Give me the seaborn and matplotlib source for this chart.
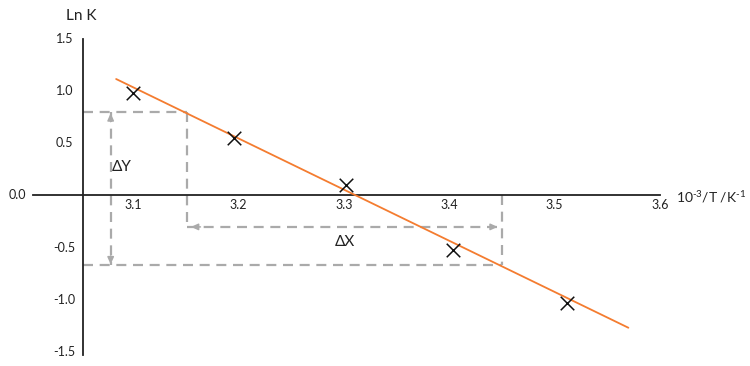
import matplotlib
matplotlib.use("Agg")
import matplotlib.pyplot as plt
import seaborn as sns
import pandas as pd

# ---- data ----
inv_temp = [3.1, 3.196, 3.302, 3.404, 3.512]      # 10^-3 / T
ln_k = [0.967, 0.536, 0.094, -0.53, -1.04]        # ln K
fit_x = [3.084, 3.570]
fit_y = [1.105, -1.275]
x_ticks = [3.1, 3.2, 3.3, 3.4, 3.5, 3.6]
x_tick_labels = ["3.1", "3.2", "3.3", "3.4", "3.5", "3.6"]
y_ticks = [-1.5, -1.0, -0.5, 0.5, 1.0, 1.5]
y_tick_labels = ["-1.5", "-1.0", "-0.5", "0.5", "1.0", "1.5"]
# gradient construction guides
dy_top, dy_bottom = 0.787, -0.678
dx_left, dx_right = 3.151, 3.450
dy_arrow_x = 3.0788
dx_arrow_y = -0.31

sns.set_theme(style="white")
plt.rcParams["font.family"] = ["Lato", "DejaVu Sans"]
plt.rcParams["mathtext.fontset"] = "custom"
plt.rcParams["mathtext.rm"] = "Lato"

fig = plt.figure(figsize=(7.5, 3.66), dpi=100)
ax = fig.add_axes([0, 0, 1, 1])
ax.set_facecolor("white")

YAXIS_X = 3.0526
ax.set_xlim(2.97381, 3.68539)
ax.set_ylim(-1.6411, 1.8612)

for s in ["top", "right"]:
    ax.spines[s].set_visible(False)
ax.spines["left"].set_position(("data", YAXIS_X))
ax.spines["left"].set_bounds(-1.54, 1.49)
ax.spines["bottom"].set_position(("data", 0))
ax.spines["bottom"].set_bounds(3.005, 3.6)
for s in ["left", "bottom"]:
    ax.spines[s].set_color("#222222")
    ax.spines[s].set_linewidth(1.3)

ax.set_xticks(x_ticks)
ax.set_xticklabels(x_tick_labels)
ax.set_yticks(y_ticks)
ax.set_yticklabels(y_tick_labels, ha="center")
ax.tick_params(axis="x", length=0, pad=3.5, labelsize=9, colors="#222222")
ax.tick_params(axis="y", length=0, pad=13.5, labelsize=9, colors="#222222")
ax.text(2.990, 0, "0.0", ha="center", va="center", fontsize=9, color="#222222")

gray = "#AAAAAA"
dash = dict(color=gray, lw=1.6, ls=(0, (4.5, 3)), zorder=1)
# guides
ax.plot([YAXIS_X, dx_left], [dy_top, dy_top], **dash)
ax.plot([dx_left, dx_left], [dy_top, dx_arrow_y], **dash)
ax.plot([dx_left, dx_right], [dx_arrow_y, dx_arrow_y], **dash)
ax.plot([dx_right, dx_right], [0, dy_bottom], **dash)
ax.plot([YAXIS_X, dx_right], [dy_bottom, dy_bottom], **dash)
ax.plot([dy_arrow_x, dy_arrow_x], [dy_top, dy_bottom], **dash)

head = dict(arrowstyle="-|>,head_length=0.35,head_width=0.16", color=gray, lw=1.1,
            shrinkA=0, shrinkB=0)
ax.annotate("", xy=(dy_arrow_x, dy_top - 0.01), xytext=(dy_arrow_x, dy_top - 0.09), arrowprops=head)
ax.annotate("", xy=(dy_arrow_x, dy_bottom + 0.01), xytext=(dy_arrow_x, dy_bottom + 0.09), arrowprops=head)
ax.annotate("", xy=(dx_left + 0.004, dx_arrow_y), xytext=(dx_left + 0.013, dx_arrow_y), arrowprops=head)
ax.annotate("", xy=(dx_right - 0.004, dx_arrow_y), xytext=(dx_right - 0.013, dx_arrow_y), arrowprops=head)

ax.text(3.089, 0.265, "ΔY", ha="center", va="center", fontsize=11, color="#222222")
ax.text(3.301, -0.45, "ΔX", ha="center", va="center", fontsize=11, color="#222222")

fit_df = pd.DataFrame({"x": fit_x, "y": fit_y})
sns.lineplot(data=fit_df, x="x", y="y", ax=ax, color="#F47C30", lw=1.3, zorder=3)

pts = pd.DataFrame({"x": inv_temp, "y": ln_k})
sns.scatterplot(data=pts, x="x", y="y", ax=ax, marker="x", s=95, color="#111111",
                linewidth=1.1, zorder=4)

ax.set_xlabel("")
ax.set_ylabel("")
ax.text(3.0507, 1.708, "Ln K", ha="center", va="center", fontsize=11, color="#222222")
ax.text(3.615, -0.02, "10$^{\\text{-3}}$/T /K$^{\\text{-1}}$", ha="left",
        va="center", fontsize=10, color="#222222")

fig.savefig("out.png", dpi=100, facecolor="white")
